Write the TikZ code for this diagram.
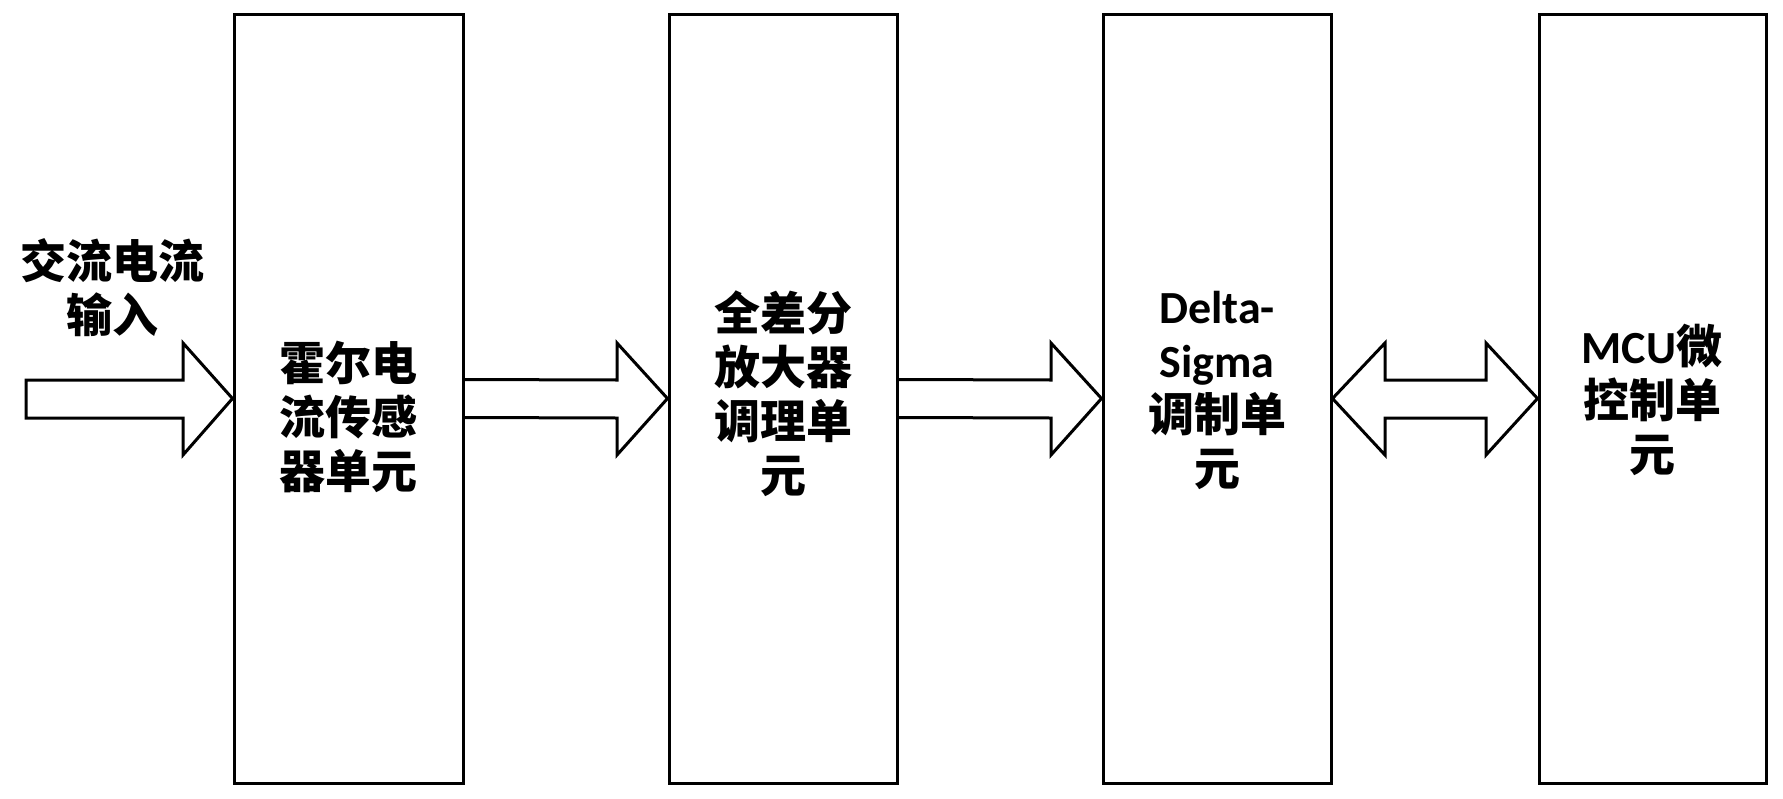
\documentclass[tikz,border=0pt]{standalone}
\usepackage{fontspec}
\usetikzlibrary{calc}
\setmainfont{Carlito}
\newfontfamily\cjk{Noto Sans CJK SC}
\begin{document}
\begin{tikzpicture}[x=1pt,y=-1pt,
  box/.style={draw,line width=3pt,inner sep=0pt},
  lbl/.style={align=center,font=\fontsize{46}{54}\selectfont\cjk\bfseries},
  arr/.style={draw,line width=3pt,line join=miter}]
\useasboundingbox (0,0) rectangle (1783,798);
\node[box,minimum width=229pt,minimum height=769pt] (b1) at (348.5,398.5) {};
\node[box,minimum width=228pt,minimum height=769pt] (b2) at (783,398.5) {};
\node[box,minimum width=228pt,minimum height=769pt] (b3) at (1217,398.5) {};
\node[box,minimum width=227pt,minimum height=769pt] (b4) at (1652.5,398.5) {};
\node[lbl] (t1) at (348,417) {霍尔电\\流传感\\器单元};
\node[lbl] (t2) at (783,394) {全差分\\放大器\\调理单\\元};
\node[lbl] (t3) at (1217,390) {{\rmfamily\bfseries Delta-}\\{\rmfamily\bfseries Sigma}\\调制单\\元};
\node[lbl] (t4) at (1652,400) {{\rmfamily\bfseries MCU}微\\控制单\\元};
\node[lbl] (in) at (112,288) {交流电流\\输入};
\coordinate (s) at (26,399);
\draw[arr] (s) ++(0,-19) -- ++(157,0) -- ++(0,-37) -- (b1.west) -- (183,455) -- ++(0,-37) -- (26,418) -- cycle;
\draw[arr] ($(b1.east)+(0,-19)$) -- (617,380) -- (617,343) -- (b2.west) -- (617,455) -- (617,418) -- ($(b1.east)+(0,19)$);
\draw[arr] ($(b2.east)+(0,-19)$) -- (1051,380) -- (1051,343) -- (b3.west) -- (1051,455) -- (1051,418) -- ($(b2.east)+(0,19)$);
\draw[arr] (b3.east) -- (1385,343) -- (1385,380) -- (1486,380) -- (1486,343) -- (b4.west) -- (1486,455) -- (1486,418) -- (1385,418) -- (1385,455) -- cycle;
\end{tikzpicture}
\end{document}
